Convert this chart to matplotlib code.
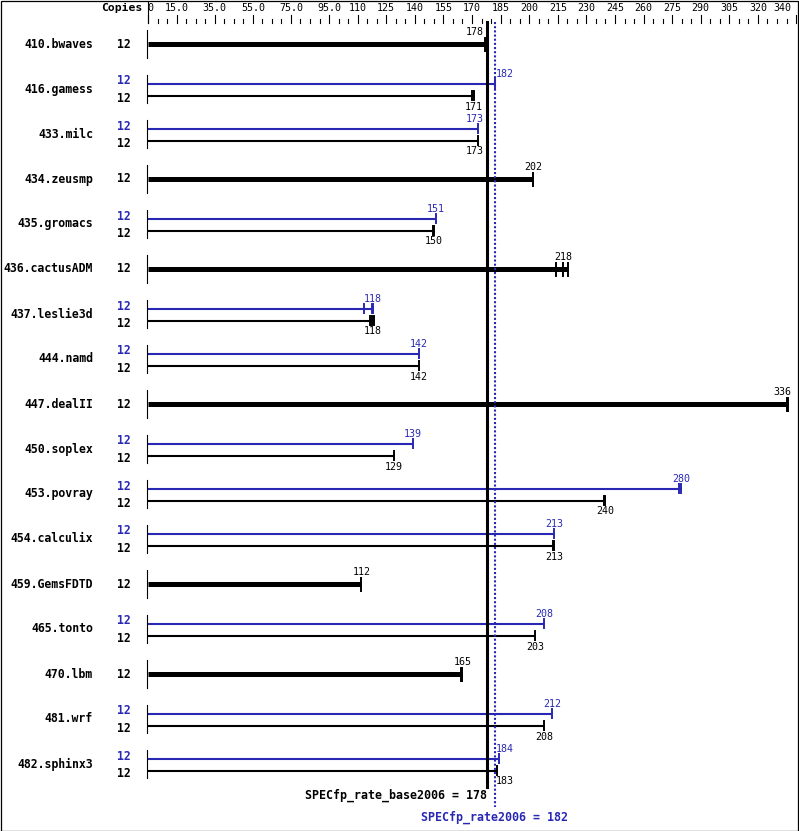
import matplotlib
matplotlib.use("Agg")
import matplotlib.pyplot as plt

names = ["410.bwaves", "416.gamess", "433.milc", "434.zeusmp", "435.gromacs",
         "436.cactusADM", "437.leslie3d", "444.namd", "447.dealII", "450.soplex",
         "453.povray", "454.calculix", "459.GemsFDTD", "465.tonto", "470.lbm",
         "481.wrf", "482.sphinx3"]
copies = [12] * 17
base = [178, 171, 173, 202, 150, 218, 118, 142, 336, 129, 240, 213, 112, 203, 165, 208, 183]
peak = [None, 182, 173, None, 151, None, 118, 142, None, 139, 280, 213, None, 208, None, 212, 184]
base_runs = [[177, 178], [170, 171], [173], [202], [149.5, 150], [214, 217.5, 220.5],
             [116.5, 117.5, 118.5], [142], [335, 336], [129], [239, 240], [212.5, 213],
             [112], [203], [164, 165], [208], [183]]
peak_runs = [None, [182], [173], None, [151], None, [113.5, 117.5, 118.2], [142], None,
             [139], [278.5, 279.5], [213], None, [208], None, [212], [184]]
tick_labels = [0, 15, 35, 55, 75, 95, 110, 125, 140, 155, 170, 185, 200, 215, 230,
               245, 260, 275, 290, 305, 320, 340]
base_score = 178
peak_score = 182

W, H = 799, 831
X0 = 148      # pixel of value 0
SC = 1.906    # pixels per unit
BLUE = "#2828b4"
MONO = "DejaVu Sans Mono"


def px(p):
    # layout pixel -> data x
    return (p - X0) / SC


def value_label(v, y, color):
    # keep labels off the two score lines
    c = X0 + v * SC
    if c + 10 > X0 + base_score * SC - 2 and c - 10 < X0 + peak_score * SC + 2:
        if v < (base_score + peak_score) / 2:
            ax.text(px(X0 + base_score * SC - 3), y, str(v), ha="right", va="center",
                    fontsize=7.2, family=MONO, color=color)
        else:
            ax.text(px(X0 + peak_score * SC + 1), y, str(v), ha="left", va="center",
                    fontsize=7.2, family=MONO, color=color)
    elif c + 10 > W - 2:
        ax.text(px(W - 8), y, str(v), ha="right", va="center",
                fontsize=7.2, family=MONO, color=color)
    else:
        ax.text(v, y, str(v), ha="center", va="center", fontsize=7.2,
                family=MONO, color=color)


fig = plt.figure(figsize=(W / 100, H / 100), dpi=100)
ax = fig.add_axes([0, 0, 1, 1])
ax.set_xlim(px(0), px(W))
ax.set_ylim(H, 0)
ax.axis("off")

# border
fig.patches.append(plt.Rectangle((0.5 / W, 0.5 / H), 1 - 1.5 / W, 1 - 1.5 / H,
                                 transform=fig.transFigure, fill=False,
                                 edgecolor="black", linewidth=0.9))

# top scale
ax.text(px(142), 8, "Copies", ha="right", va="center", fontsize=8.2,
        fontweight="bold", family=MONO)
ax.plot([0, 0], [2, 23], color="black", lw=0.8)
for v in range(0, 341, 5):
    top = 15 if v in tick_labels else 19
    ax.plot([v, v], [top, 23], color="black", lw=0.8)
for v in tick_labels:
    lab = "0" if v == 0 else ("%.1f" % v if v < 100 else "%d" % v)
    if v == 0:
        ax.text(px(147), 8, lab, ha="left", va="center", fontsize=7.2, family=MONO)
    elif v == tick_labels[-1]:
        ax.text(px(791), 8, lab, ha="right", va="center", fontsize=7.2, family=MONO)
    else:
        ax.text(v, 8, lab, ha="center", va="center", fontsize=7.2, family=MONO)

# benchmark rows
for i, name in enumerate(names):
    yc = 44 + 45 * i
    ax.text(px(93), yc, name, ha="right", va="center", fontsize=8.3,
            fontweight="bold", family=MONO)
    ax.plot([px(147), px(147)], [yc - 14, yc + 14], color="black", lw=0.8)
    if peak[i] is None:
        end = max([base[i]] + base_runs[i])
        ax.plot([0, end], [yc, yc], color="black", lw=3.6, solid_capstyle="butt")
        for r in base_runs[i]:
            ax.plot([r, r], [yc - 6.5, yc + 6.5], color="black", lw=1.4)
        value_label(base[i], yc - 12, "black")
        ax.text(px(124), yc, str(copies[i]), ha="center", va="center",
                fontsize=8.3, fontweight="bold", family=MONO)
    else:
        yp, yb = yc - 5.5, yc + 6.5
        pend = max([peak[i]] + peak_runs[i])
        bend = max([base[i]] + base_runs[i])
        ax.plot([0, pend], [yp, yp], color=BLUE, lw=1.5, solid_capstyle="butt")
        ax.plot([0, bend], [yb, yb], color="black", lw=1.5, solid_capstyle="butt")
        for r in peak_runs[i]:
            ax.plot([r, r], [yp - 4.5, yp + 4.5], color=BLUE, lw=1.4)
        for r in base_runs[i]:
            ax.plot([r, r], [yb - 4.5, yb + 4.5], color="black", lw=1.4)
        value_label(peak[i], yp - 9.5, BLUE)
        value_label(base[i], yb + 11, "black")
        ax.text(px(124), yc - 8, str(copies[i]), ha="center", va="center",
                fontsize=8.3, fontweight="bold", family=MONO, color=BLUE)
        ax.text(px(124), yc + 9.5, str(copies[i]), ha="center", va="center",
                fontsize=8.3, fontweight="bold", family=MONO)

# overall score lines
ax.plot([base_score, base_score], [22, 787], color="black", lw=2.2)
ax.plot([peak_score, peak_score], [22, 807], color=BLUE, lw=1.5,
        linestyle=(0, (1, 1)))
ax.text(base_score, 795, "SPECfp_rate_base2006 = %d" % base_score, ha="right",
        va="center", fontsize=8.4, fontweight="bold", family=MONO)
ax.text(peak_score, 817, "SPECfp_rate2006 = %d" % peak_score, ha="center",
        va="center", fontsize=8.4, fontweight="bold", family=MONO, color=BLUE)

fig.savefig("out.png", dpi=100)
